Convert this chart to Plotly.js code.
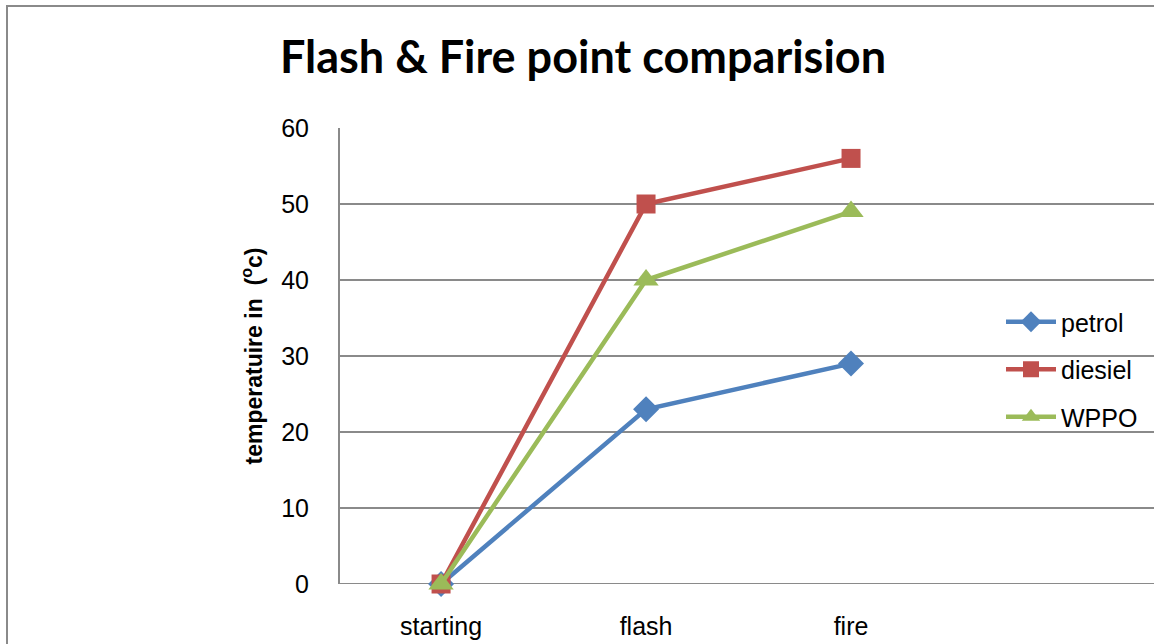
<!DOCTYPE html>
<html>
<head>
<meta charset="utf-8">
<script src="https://cdn.plot.ly/plotly-3.0.1.min.js"></script>
<style>
  html, body { margin:0; padding:0; background:#fff; overflow:hidden; }
  #frame { position:absolute; left:6px; top:5px; width:1300px; height:800px; border:2px solid #8a8a8a; box-sizing:border-box; }
  #chart { position:absolute; left:0; top:0; width:1154px; height:644px; }
</style>
</head>
<body>
<div id="frame"></div>
<div id="chart"></div>
<script>
const categories = ["starting", "flash", "fire"];
const petrol  = [0, 23, 29];
const diesiel = [0, 50, 56];
const wppo    = [0, 40, 49];
const yTicks  = [0, 10, 20, 30, 40, 50, 60];

const idx = categories.map((c, i) => i);

const traces = [
  { name: "petrol", y: petrol, color: "#4F81BD", symbol: "diamond", size: 20 },
  { name: "diesiel", y: diesiel, color: "#C0504D", symbol: "square", size: 19 },
  { name: "WPPO", y: wppo, color: "#9BBB59", symbol: "triangle-up", size: 22 }
].map(s => ({
  type: "scatter",
  mode: "lines+markers",
  name: s.name,
  legendgroup: s.name,
  x: idx,
  y: s.y,
  line: { color: s.color, width: 4.5 },
  marker: { color: s.color, symbol: s.symbol, size: s.size, line: { width: 0 } },
  cliponaxis: false
}));

const font = "'Liberation Sans', Arial, sans-serif";
const titleFont = "Lato, 'Liberation Sans', Arial, sans-serif";

const layout = {
  width: 1154,
  height: 644,
  paper_bgcolor: "rgba(0,0,0,0)",
  plot_bgcolor: "rgba(0,0,0,0)",
  margin: { l: 340, r: 0, t: 128, b: 60, autoexpand: false },
  title: {
    text: "<b>Flash & Fire point comparision</b>",
    font: { family: titleFont, size: 45, color: "#000" },
    x: 583 / 1154, xanchor: "center",
    y: 1 - 57 / 644, yanchor: "middle"
  },
  xaxis: {
    range: [-0.493, 3.478],
    tickmode: "array",
    tickvals: idx,
    ticktext: categories,
    showgrid: false,
    zeroline: false,
    showline: false,
    ticks: "outside",
    ticklen: 20,
    tickcolor: "rgba(0,0,0,0)",
    tickfont: { family: font, size: 25, color: "#000" }
  },
  yaxis: {
    range: [0, 60],
    tickmode: "array",
    tickvals: yTicks,
    showgrid: true,
    gridcolor: "#8a8a8a",
    gridwidth: 2,
    zeroline: false,
    showline: true,
    linecolor: "#8a8a8a",
    linewidth: 2,
    ticks: "outside",
    ticklen: 24,
    tickcolor: "rgba(0,0,0,0)",
    tickfont: { family: font, size: 25, color: "#000" },
    title: {
      text: "<b>temperatuire in  (<sup>o</sup>c)</b>",
      font: { family: font, size: 23, color: "#000" },
      standoff: 12
    }
  },
  shapes: [
    { type: "line", xref: "paper", yref: "y", x0: 0, x1: 1, y0: 0, y1: 0,
      line: { color: "#8a8a8a", width: 2 }, layer: "below" }
  ],
  showlegend: true,
  legend: {
    x: (1001 - 340) / 814, xref: "paper", xanchor: "left",
    y: (584 - 299) / 456, yref: "paper", yanchor: "top",
    font: { family: font, size: 25, color: "#000" },
    tracegroupgap: 12,
    itemwidth: 50,
    bgcolor: "rgba(255,255,255,0)"
  }
};

Plotly.newPlot("chart", traces, layout, { displayModeBar: false, staticPlot: true });
</script>
</body>
</html>
